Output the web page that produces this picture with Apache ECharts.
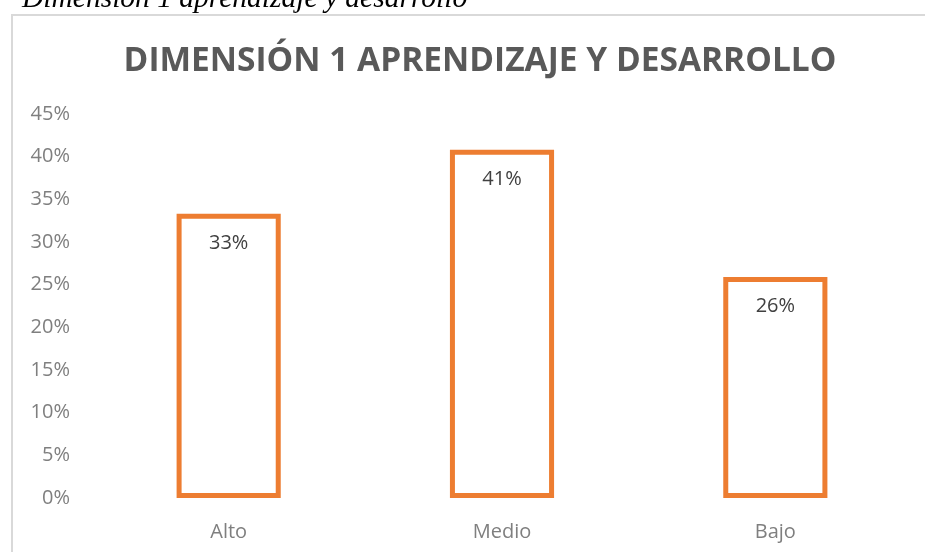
<!DOCTYPE html>
<html>
<head>
<meta charset="utf-8">
<script src="https://cdn.jsdelivr.net/npm/echarts@6/dist/echarts.min.js"></script>
<style>
  html, body { margin: 0; padding: 0; background: #fff; }
  #chart { width: 925px; height: 552px; }
</style>
</head>
<body>
<div id="chart"></div>
<script>
// data (labels are shown rounded)
const categories = ['Alto', 'Medio', 'Bajo'];
const values = [33.3, 40.8, 25.9];
const yTicks = { min: 0, max: 45, step: 5 };

let myChart = echarts.init(document.getElementById('chart'));

myChart.setOption({
  animation: false,
  textStyle: { fontFamily: 'Open Sans' },
  title: {
    text: 'DIMENSIÓN 1 APRENDIZAJE Y DESARROLLO',
    left: 475,
    textAlign: 'center',
    top: 39,
    textStyle: { fontSize: 33.5, fontWeight: 'bold', color: '#595959', fontFamily: 'Open Sans' }
  },
  graphic: [
    {
      type: 'rect',
      shape: { x: 12, y: 15, width: 930, height: 560 },
      style: { fill: 'none', stroke: '#d9d9d9', lineWidth: 2 },
      z: -1
    },
    {
      type: 'text',
      left: 22,
      top: -16,
      style: {
        text: 'Dimensión 1 aprendizaje y desarrollo',
        font: 'italic 29.5px "Liberation Serif"',
        fill: '#000'
      }
    }
  ],
  grid: { left: 92, right: 13, top: 114, bottom: 54, containLabel: false },
  xAxis: {
    type: 'category',
    data: categories,
    axisLine: { show: false },
    axisTick: { show: false },
    axisLabel: { color: '#7f7f7f', fontSize: 20, margin: 24 }
  },
  yAxis: {
    type: 'value',
    min: yTicks.min,
    max: yTicks.max,
    interval: yTicks.step,
    splitLine: { show: false },
    axisLine: { show: false },
    axisLabel: { color: '#7f7f7f', fontSize: 20, margin: 22, padding: [5, 0, 0, 0], formatter: '{value}%' }
  },
  series: [{
    type: 'bar',
    data: values,
    barWidth: '38.1%',
    itemStyle: { color: '#ffffff', borderColor: '#ed7d31', borderWidth: 5 },
    label: {
      show: true,
      position: 'insideTop',
      distance: 19,
      formatter: p => Math.round(p.value) + '%',
      color: '#404040',
      fontSize: 20
    }
  }]
});

window.addEventListener('resize', () => {
  myChart.resize();
});
</script>
</body>
</html>
